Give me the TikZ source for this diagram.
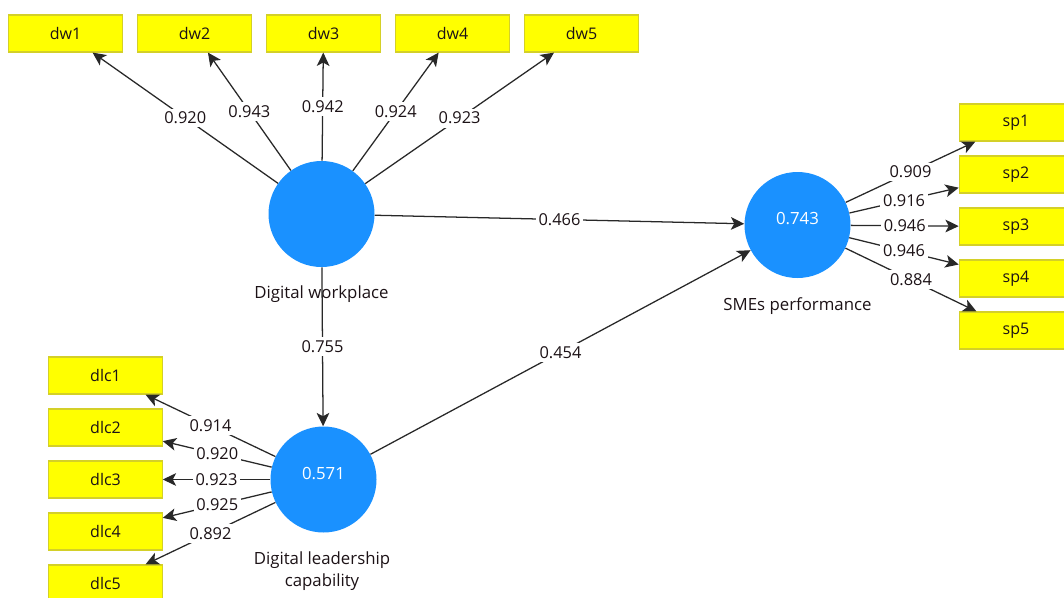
\documentclass[tikz,border=0pt]{standalone}
\usepackage{fontspec}
\setmainfont{Open Sans}
\usetikzlibrary{arrows.meta}
\definecolor{latentblue}{RGB}{26,145,255}
\definecolor{itemyellow}{RGB}{255,255,0}
\definecolor{itemborder}{RGB}{212,208,40}
\definecolor{inktext}{RGB}{28,18,22}
\definecolor{pathgray}{RGB}{40,40,40}
\tikzset{
  itembox/.style={draw=itemborder, line width=0.9pt, fill=itemyellow,
    minimum width=85pt, minimum height=27.75pt, inner sep=0pt,
    text=inktext, font=\fontsize{12}{14}\selectfont},
  latent/.style={circle, fill=latentblue, minimum size=79.5pt, inner sep=0pt},
  latentname/.style={text=inktext, font=\fontsize{12.6}{16.5}\selectfont, align=center},
  innerval/.style={text=white, font=\fontsize{12.6}{15}\selectfont},
  link/.style={draw=pathgray, line width=0.95pt,
    -{Stealth[length=10pt,width=9.5pt,inset=2.5pt]}},
  coef/.style={midway, fill=white, inner xsep=2pt, inner ysep=2.5pt, text=inktext,
    font=\fontsize{12.3}{14}\selectfont}
}
\begin{document}
\begin{tikzpicture}[x=0.75pt,y=-0.75pt]
\useasboundingbox (0,0) rectangle (1064,597);
\clip (0,0) rectangle (1064,597);
\fill[white] (0,0) rectangle (1064,597);

% latent constructs
\node[latent] (dw) at (321.5,214) {};
\node[latent, label={[innerval, yshift=4.5pt]center:0.743}] (sme) at (797.5,225) {};
\node[latent, label={[innerval, yshift=4.5pt]center:0.571}] (dlc) at (323.5,479.5) {};

\node[latentname] (dwname) at (321.5,294) {Digital workplace};
\node[latentname] (smename) at (797.5,306) {SMEs performance};
\node[latentname] (dlcname) at (322,571) {Digital leadership\\capability};

% indicators of the digital workplace
\node[itembox] (dw1) at (65.5,33.5) {dw1};
\node[itembox] (dw2) at (194.5,33.5) {dw2};
\node[itembox] (dw3) at (323.5,33.5) {dw3};
\node[itembox] (dw4) at (452.5,33.5) {dw4};
\node[itembox] (dw5) at (581.5,33.5) {dw5};

% indicators of SMEs performance
\node[itembox] (sp1) at (1016,122.5) {sp1};
\node[itembox] (sp2) at (1016,174.5) {sp2};
\node[itembox] (sp3) at (1016,226.5) {sp3};
\node[itembox] (sp4) at (1016,278.5) {sp4};
\node[itembox] (sp5) at (1016,330.5) {sp5};

% indicators of digital leadership capability
\node[itembox] (dlc1) at (105.5,375.5) {dlc1};
\node[itembox] (dlc2) at (105.5,427.5) {dlc2};
\node[itembox] (dlc3) at (105.5,479.5) {dlc3};
\node[itembox] (dlc4) at (105.5,531.5) {dlc4};
\node[itembox] (dlc5) at (105.5,583.5) {dlc5};

% outer loadings
\draw[link] (dw) -- node[coef] {0.920} (dw1);
\draw[link] (dw) -- node[coef] {0.943} (dw2);
\draw[link] (dw) -- node[coef] {0.942} (dw3);
\draw[link] (dw) -- node[coef] {0.924} (dw4);
\draw[link] (dw) -- node[coef] {0.923} (dw5);

\draw[link] (sme) -- node[coef] {0.909} (sp1);
\draw[link] (sme) -- node[coef] {0.916} (sp2);
\draw[link] (sme) -- node[coef] {0.946} (sp3);
\draw[link] (sme) -- node[coef] {0.946} (sp4);
\draw[link] (sme) -- node[coef] {0.884} (sp5);

\draw[link] (dlc) -- node[coef] {0.914} (dlc1);
\draw[link] (dlc) -- node[coef] {0.920} (dlc2);
\draw[link] (dlc) -- node[coef] {0.923} (dlc3);
\draw[link] (dlc) -- node[coef] {0.925} (dlc4);
\draw[link] (dlc) -- node[coef] {0.892} (dlc5);

% structural paths
\draw[link] (dw) -- node[coef] {0.466} (sme);
\draw[link] (dw) -- node[coef] {0.755} (dlc);
\draw[link] (dlc) -- node[coef] {0.454} (sme);
\end{tikzpicture}
\end{document}
